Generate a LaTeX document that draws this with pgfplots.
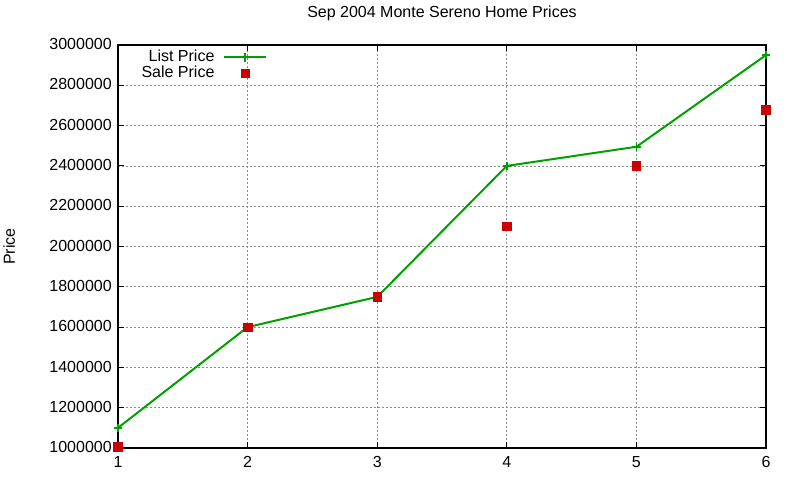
\documentclass[border=0pt]{standalone}
\usepackage{fontspec}
\setmainfont{Liberation Sans}
\usepackage{pgfplots}
\pgfplotsset{compat=1.18}
\definecolor{listgreen}{RGB}{0,160,0}
\definecolor{salered}{RGB}{204,0,0}
\newcommand{\gpfont}{\fontsize{12pt}{14pt}\selectfont}
\pgfplotsset{
    gp line legend/.style={legend image code/.code={
        \draw[mark repeat=2, mark phase=2, ##1] plot coordinates {(0pt,0pt) (15.5pt,0pt) (31pt,0pt)};}},
    gp mark legend/.style={legend image code/.code={
        \draw[##1] plot coordinates {(15.5pt,0pt)};}},
}
\begin{document}
\begin{tikzpicture}
\useasboundingbox (-88.5pt,-24pt) rectangle (511.5pt,336pt);
\begin{axis}[
    scale only axis,
    width=486pt, height=302.25pt,
    xmin=1, xmax=6,
    ymin=1000000, ymax=3000000,
    xtick={1,2,3,4,5,6},
    ytick={1000000,1200000,1400000,1600000,1800000,2000000,2200000,2400000,2600000,2800000,3000000},
    /pgf/number format/fixed,
    /pgf/number format/1000 sep={},
    /pgf/number format/assume math mode=true,
    scaled y ticks=false,
    tick label style={font=\gpfont},
    xticklabel style={anchor=base, yshift=-14.25pt},
    yticklabel style={anchor=base east, inner sep=0pt, xshift=-4.5pt, yshift=-3.5pt},
    tick align=inside,
    major tick length=4.5pt,
    tick style={black, line width=0.75pt},
    axis line style={line width=0.8pt},
    grid=major,
    grid style={dash pattern=on 1.5pt off 1.5pt, black!45, line width=0.6pt},
    title={Sep 2004 Monte Sereno Home Prices},
    title style={font=\gpfont, at={(axis description cs:0.5,1.048)}, anchor=base, inner sep=0pt},
    ylabel={Price},
    ylabel style={font=\gpfont, at={(axis description cs:-0.159,0.5)}, anchor=base, inner sep=0pt},
    clip=false,
    legend plot pos=right,
    legend cell align=right,
    legend style={font=\gpfont, draw=none, fill=none, inner sep=0pt,
        at={(axis description cs:0.23,0.99)}, anchor=north east,
        row sep=0pt,
        /tikz/every odd column/.append style={column sep=6.75pt},
        nodes={inner sep=0pt, text depth=2.5pt, text height=9.5pt}},
]

% List price
\addplot[color=listgreen, line width=1.5pt, mark=+, mark size=3.2pt,
    mark options={line width=1.3pt}, gp line legend] coordinates {
    (1,1100000) (2,1600000) (3,1750000) (4,2400000) (5,2495000) (6,2950000)
};

% Sale price
\addplot[only marks, color=salered, mark=square*, mark size=3.2pt,
    gp mark legend] coordinates {
    (1,1005000) (2,1600000) (3,1750000) (4,2100000) (5,2400000) (6,2678000)
};

\legend{List Price, Sale Price}
\end{axis}
\end{tikzpicture}
\end{document}
